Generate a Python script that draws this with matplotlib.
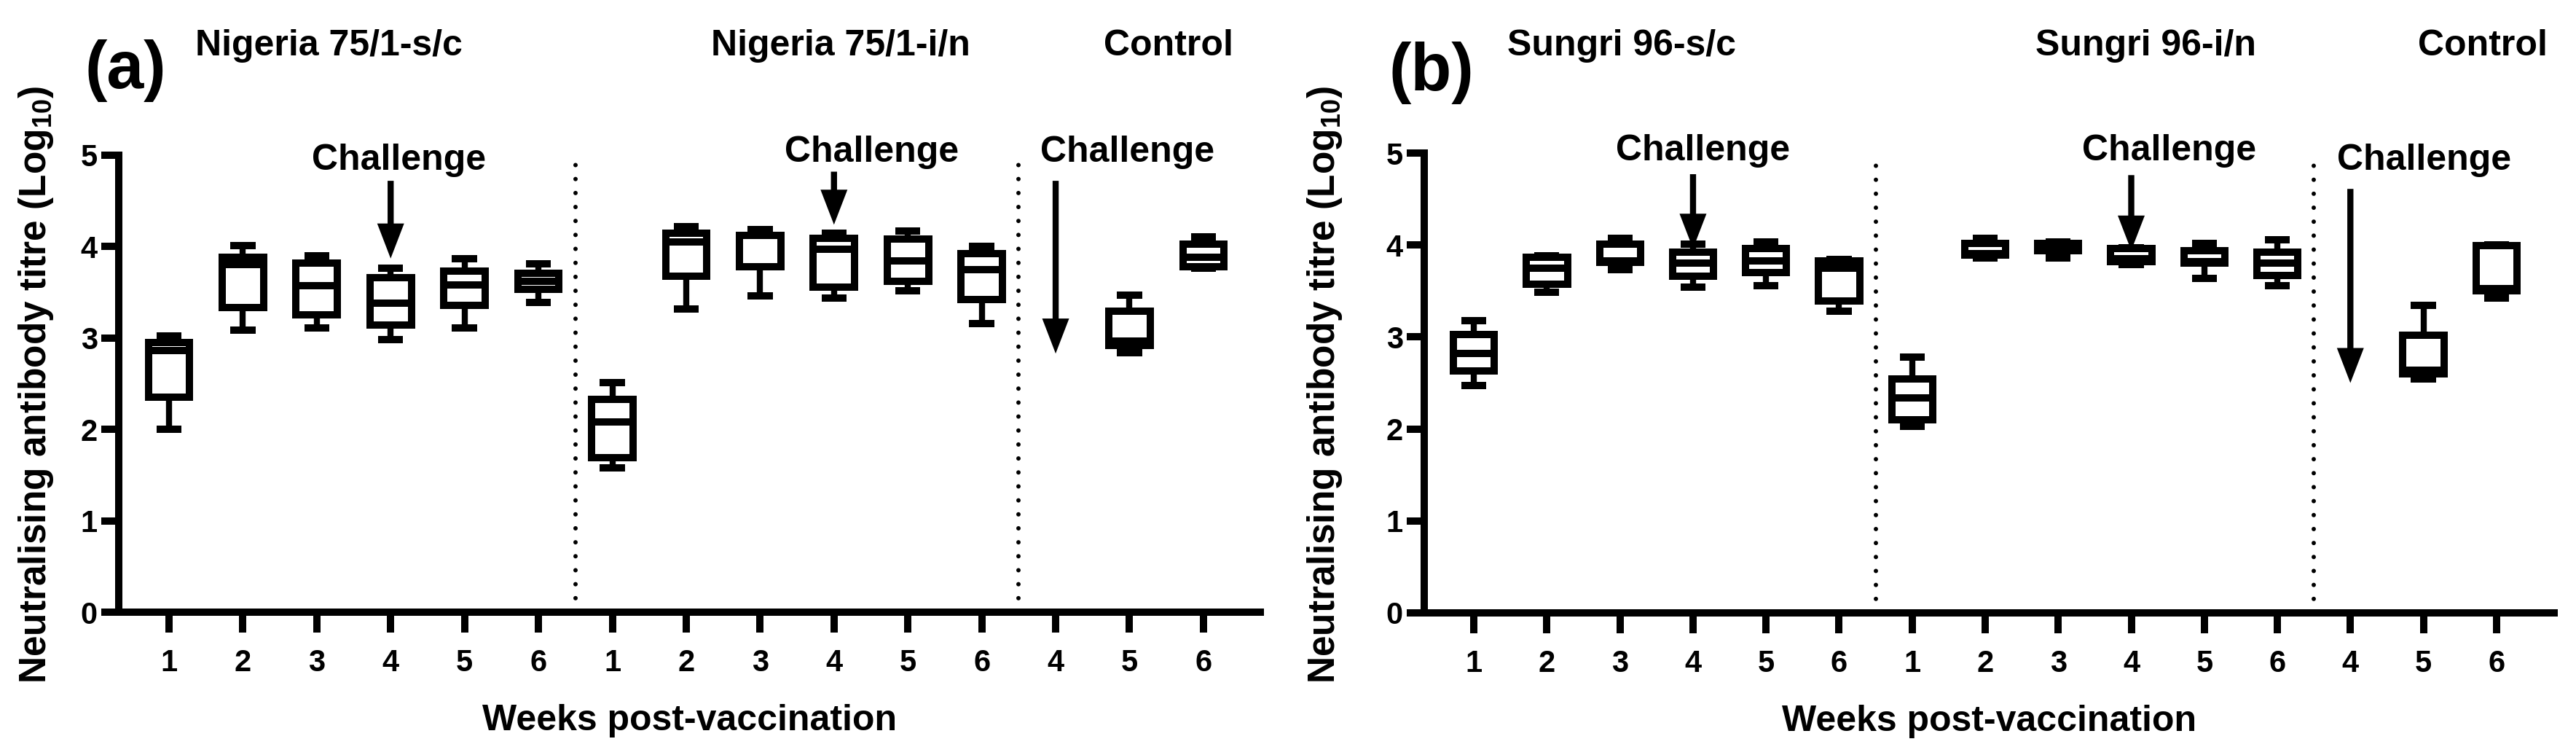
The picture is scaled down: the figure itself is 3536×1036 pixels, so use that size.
import numpy as np
import matplotlib.pyplot as plt
from matplotlib.patches import FancyArrow

plt.rcParams['font.family'] = ['Liberation Sans', 'DejaVu Sans']
plt.rcParams['font.weight'] = 'bold'
plt.rcParams['mathtext.fontset'] = 'custom'
plt.rcParams['mathtext.rm'] = 'Liberation Sans:bold'
plt.rcParams['mathtext.it'] = 'Liberation Sans:bold'
plt.rcParams['mathtext.bf'] = 'Liberation Sans:bold'

# позиции боксов (13 = контроль, неделя 4 - без данных)
positions = [1, 2, 3, 4, 5, 6, 7, 8, 9, 10, 11, 12, 14, 15]
tick_pos = list(range(1, 16))
tick_labels = ['1', '2', '3', '4', '5', '6', '1', '2', '3', '4', '5', '6', '4', '5', '6']
dividers = [6.5, 12.5]

# (a) Nigeria 75/1
a_lo  = [2.00, 3.09, 3.11, 2.98, 3.11, 3.39, 1.58, 3.32, 3.46, 3.44, 3.52, 3.16, 2.84, 3.76]
a_q1  = [2.35, 3.33, 3.25, 3.14, 3.36, 3.53, 1.69, 3.68, 3.78, 3.56, 3.62, 3.42, 2.92, 3.78]
a_med = [2.86, 3.80, 3.57, 3.38, 3.58, 3.62, 2.08, 4.05, 4.12, 3.97, 3.84, 3.75, 2.97, 3.88]
a_q3  = [2.95, 3.88, 3.82, 3.66, 3.73, 3.71, 2.33, 4.15, 4.12, 4.09, 4.08, 3.92, 3.29, 4.03]
a_hi  = [3.02, 4.01, 3.90, 3.76, 3.87, 3.81, 2.51, 4.22, 4.19, 4.15, 4.17, 4.00, 3.47, 4.11]

# (b) Sungri 96
b_lo  = [2.47, 3.49, 3.73, 3.54, 3.56, 3.28, 2.03, 3.86, 3.86, 3.79, 3.64, 3.56, 2.54, 3.42]
b_q1  = [2.63, 3.57, 3.81, 3.66, 3.70, 3.39, 2.10, 3.89, 3.94, 3.82, 3.80, 3.67, 2.60, 3.50]
b_med = [2.82, 3.75, 3.83, 3.80, 3.83, 3.75, 2.34, 3.91, 3.97, 3.85, 3.82, 3.80, 2.64, 3.53]
b_q3  = [3.03, 3.87, 4.01, 3.92, 3.96, 3.83, 2.54, 4.02, 4.02, 3.96, 3.94, 3.92, 3.02, 3.99]
b_hi  = [3.18, 3.88, 4.07, 4.01, 4.03, 3.84, 2.78, 4.07, 4.03, 3.97, 4.02, 4.06, 3.34, 4.00]

# стрелки "Challenge": позиция, начало, конец
a_arrow_x = [4, 10, 13]
a_arrow_top = [4.72, 4.82, 4.72]
a_arrow_tip = [3.87, 4.24, 2.83]
a_chal_x = [4.11, 10.51, 13.97]
a_chal_y = [4.84, 4.93, 4.93]

b_arrow_x = [4, 10, 13]
b_arrow_top = [4.77, 4.76, 4.61]
b_arrow_tip = [3.96, 3.94, 2.50]
b_chal_x = [4.14, 10.52, 14.01]
b_chal_y = [4.92, 4.92, 4.82]

W, H = 3536, 1036
fig = plt.figure(figsize=(W / 100, H / 100), dpi=100)
fig.patch.set_facecolor('white')

LW = 7.2


def draw_panel(rect, xlim, lo, q1, med, q3, hi, arr_x, arr_top, arr_tip, ch_x, ch_y, px_x, px_y):
    ax = fig.add_axes(rect)
    stats = [dict(whislo=lo[i], q1=q1[i], med=med[i], q3=q3[i], whishi=hi[i]) for i in range(len(lo))]
    ax.bxp(stats, positions=positions, widths=0.56, capwidths=0.34, showfliers=False,
           patch_artist=True, manage_ticks=False,
           boxprops=dict(facecolor='white', edgecolor='black', linewidth=LW),
           medianprops=dict(color='black', linewidth=LW, solid_capstyle='butt'),
           whiskerprops=dict(color='black', linewidth=6, solid_capstyle='butt'),
           capprops=dict(color='black', linewidth=LW, solid_capstyle='butt'))

    # пунктирные разделители групп
    for d in dividers:
        ax.plot([d, d], [0, 5], color='black', lw=4.3, linestyle=(0, (0.01, 3.2)),
                dash_capstyle='round', zorder=1)

    # стрелки в координатах данных
    for x, t, e in zip(arr_x, arr_top, arr_tip):
        ax.add_patch(FancyArrow(x, t, 0, e - t, width=8.4 / px_x, head_width=37 / px_x,
                                head_length=48 / px_y, length_includes_head=True,
                                color='black', lw=0, zorder=1.5, clip_on=False))
    for x, y in zip(ch_x, ch_y):
        ax.text(x, y, 'Challenge', ha='center', va='baseline', fontsize=36,
                fontweight='bold', clip_on=False)

    ax.set_xlim(*xlim)
    ax.set_ylim(0, 5)
    ax.set_xticks(tick_pos)
    ax.set_xticklabels(tick_labels)
    ax.set_yticks([0, 1, 2, 3, 4, 5])
    for s in ['top', 'right']:
        ax.spines[s].set_visible(False)
    for s in ['left', 'bottom']:
        ax.spines[s].set_linewidth(LW)
    ax.tick_params(axis='x', direction='out', length=20, width=LW, pad=16, labelsize=30)
    ax.tick_params(axis='y', direction='out', length=17, width=LW, pad=4, labelsize=30)
    ax.set_xlabel('Weeks post-vaccination', fontsize=36, fontweight='bold', labelpad=26)
    ax.patch.set_alpha(0)
    return ax


ax_a = draw_panel([163 / W, 1 - 840 / H, (1730 - 163) / W, (840 - 213) / H], (0.32, 15.77),
                  a_lo, a_q1, a_med, a_q3, a_hi, a_arrow_x, a_arrow_top, a_arrow_tip,
                  a_chal_x, a_chal_y, 101.5, 125.3)
ax_b = draw_panel([1955 / W, 1 - 841 / H, (3506 - 1955) / W, (841 - 210) / H], (0.32, 15.79),
                  b_lo, b_q1, b_med, b_q3, b_hi, b_arrow_x, b_arrow_top, b_arrow_tip,
                  b_chal_x, b_chal_y, 100.3, 126.2)

ylab = r'Neutralising antibody titre (Log$_{10}$)'
fig.text(50 / W, 1 - 528 / H, ylab, rotation=90, ha='center', va='center', fontsize=37, fontweight='bold')
fig.text(1819 / W, 1 - 528 / H, ylab, rotation=90, ha='center', va='center', fontsize=37, fontweight='bold')

# подписи панелей и групп
fig.text(172 / W, 1 - 121 / H, '(a)', ha='center', va='baseline', fontsize=66, fontweight='bold')
fig.text(1965 / W, 1 - 124 / H, '(b)', ha='center', va='baseline', fontsize=66, fontweight='bold')
titles = [('Nigeria 75/1-s/c', 451), ('Nigeria 75/1-i/n', 1154), ('Control', 1604),
          ('Sungri 96-s/c', 2226), ('Sungri 96-i/n', 2945), ('Control', 3408)]
for t, x in titles:
    fig.text(x / W, 1 - 76 / H, t, ha='center', va='baseline', fontsize=36, fontweight='bold')

fig.savefig('out.png', dpi=100, facecolor='white')
